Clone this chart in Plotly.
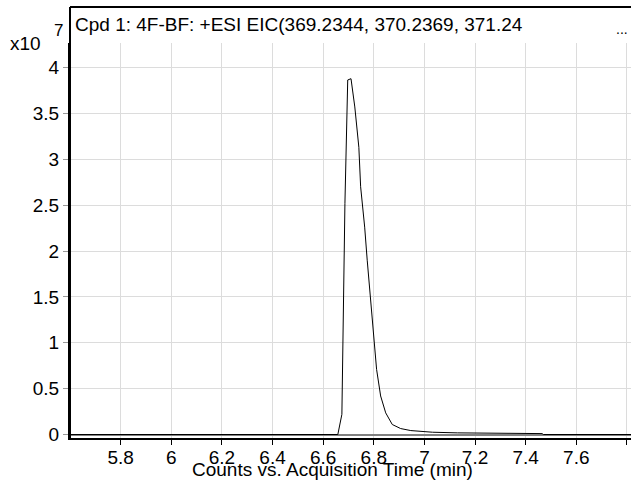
import plotly.graph_objects as go

# Retention time (min) and counts (x10^7)
time_min = [5.6, 6.658, 6.674, 6.686, 6.697, 6.710, 6.725, 6.741, 6.748, 6.764, 6.774,
            6.785, 6.798, 6.811, 6.827, 6.847, 6.873, 6.906, 6.946, 6.985, 7.032,
            7.13, 7.30, 7.465, 7.47, 7.82]
counts_e7 = [0.0, 0.0, 0.22, 2.52, 3.864, 3.878, 3.57, 3.13, 2.70, 2.26, 1.90,
             1.54, 1.07, 0.71, 0.42, 0.236, 0.109, 0.065, 0.043, 0.033, 0.025,
             0.018, 0.012, 0.010, 0.0, 0.0]

x_ticks = [5.8, 6.0, 6.2, 6.4, 6.6, 6.8, 7.0, 7.2, 7.4, 7.6, 7.8]
x_tick_text = ["5.8", "6", "6.2", "6.4", "6.6", "6.8", "7", "7.2", "7.4", "7.6", ""]
y_ticks = [0, 0.5, 1, 1.5, 2, 2.5, 3, 3.5, 4]
y_tick_text = ["0", "0.5", "1", "1.5", "2", "2.5", "3", "3.5", "4"]

title_text = "Cpd 1: 4F-BF: +ESI EIC(369.2344, 370.2369, 371.24"
x_title = "Counts vs. Acquisition Time (min)"

W, H = 631, 481
L, R, T, B = 70, 0, 43, 43
pw, ph = W - L - R, H - T - B

def px(x):
    return (x - L) / pw

def py(y):
    return (H - B - y) / ph

FONT = "Liberation Sans"
FS = 19

fig = go.Figure()
fig.add_trace(go.Scatter(x=time_min, y=counts_e7, mode="lines",
                         line=dict(color="black", width=1), showlegend=False,
                         hoverinfo="skip"))

fig.update_layout(
    width=W, height=H,
    margin=dict(l=L, r=R, t=T, b=B),
    paper_bgcolor="white", plot_bgcolor="white",
    font=dict(family=FONT, size=FS, color="black"),
    xaxis=dict(range=[5.6, 7.816], tickvals=x_ticks, ticktext=x_tick_text,
               showgrid=True, gridcolor="#dcdcdc", gridwidth=1,
               showline=True, linecolor="black", linewidth=2,
               ticks="outside", ticklen=5, tickcolor="black", tickwidth=1,
               ticklabelstandoff=-4,
               zeroline=False, tickfont=dict(size=FS), automargin=False),
    yaxis=dict(range=[-0.038, 4.267], tickvals=y_ticks, ticktext=y_tick_text,
               showgrid=True, gridcolor="#dcdcdc", gridwidth=1,
               showline=True, linecolor="black", linewidth=2,
               ticks="outside", ticklen=5, tickcolor="#999999", tickwidth=1,
               zeroline=True, zerolinecolor="#808080", zerolinewidth=2,
               tickfont=dict(size=FS), automargin=False),
    shapes=[
        dict(type="line", xref="paper", yref="paper", x0=0, x1=0, y0=0, y1=py(7),
             line=dict(color="black", width=2)),
        dict(type="line", xref="paper", yref="paper", x0=0, x1=1, y0=py(7), y1=py(7),
             line=dict(color="black", width=2)),
    ],
    annotations=[
        dict(text=title_text, xref="paper", yref="paper", x=px(73), y=py(25),
             xanchor="left", yanchor="middle", showarrow=False, font=dict(size=FS)),
        dict(text="...", xref="paper", yref="paper", x=px(622), y=py(29),
             xanchor="center", yanchor="middle", showarrow=False, font=dict(size=14)),
        dict(text="x10", xref="paper", yref="paper", x=px(25), y=py(43),
             xanchor="center", yanchor="middle", showarrow=False, font=dict(size=FS)),
        dict(text="7", xref="paper", yref="paper", x=px(58), y=py(30),
             xanchor="center", yanchor="middle", showarrow=False, font=dict(size=17)),
        dict(text=x_title, xref="paper", yref="paper", x=px(332), y=py(469),
             xanchor="center", yanchor="middle", showarrow=False, font=dict(size=FS)),
    ],
)

fig.write_html("out.html", config={"displayModeBar": False},
               post_script="document.body.style.margin='0';")
